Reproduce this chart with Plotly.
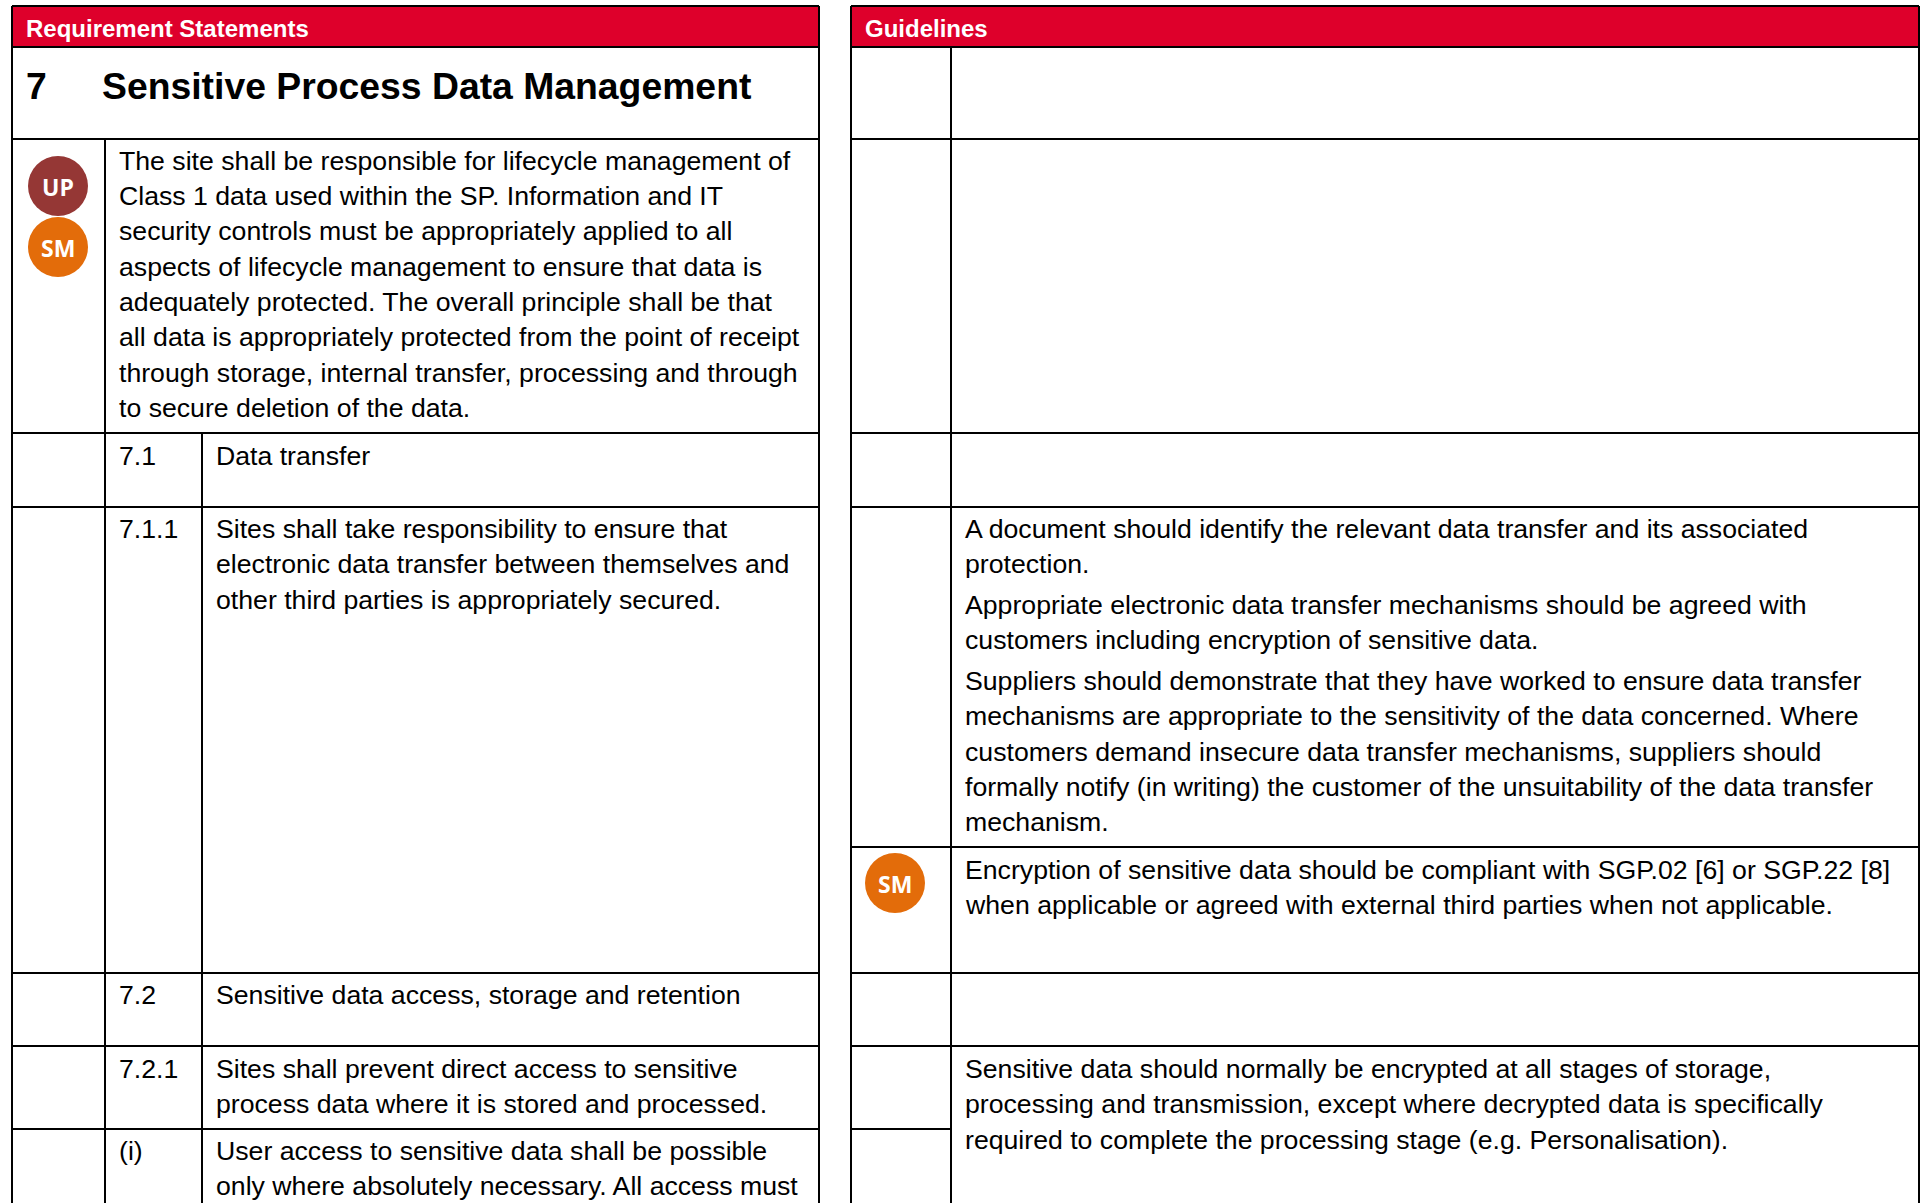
import plotly.graph_objects as go

# Table content
headers = ["Requirement Statements", "Guidelines"]
section_no = "7"
section_title = "Sensitive Process Data Management"
intro = ["The site shall be responsible for lifecycle management of",
         "Class 1 data used within the SP. Information and IT",
         "security controls must be appropriately applied to all",
         "aspects of lifecycle management to ensure that data is",
         "adequately protected. The overall principle shall be that",
         "all data is appropriately protected from the point of receipt",
         "through storage, internal transfer, processing and through",
         "to secure deletion of the data."]
numbers = ["7.1", "7.1.1", "7.2", "7.2.1", "(i)"]
number_rows = [456, 528.5, 995, 1068.5, 1150.5]
req_711 = ["Sites shall take responsibility to ensure that",
           "electronic data transfer between themselves and",
           "other third parties is appropriately secured."]
req_721 = ["Sites shall prevent direct access to sensitive",
           "process data where it is stored and processed."]
req_i = ["User access to sensitive data shall be possible",
         "only where absolutely necessary. All access must"]
guide_a = ["A document should identify the relevant data transfer and its associated", "protection."]
guide_b = ["Appropriate electronic data transfer mechanisms should be agreed with",
           "customers including encryption of sensitive data."]
guide_c = ["Suppliers should demonstrate that they have worked to ensure data transfer",
           "mechanisms are appropriate to the sensitivity of the data concerned. Where",
           "customers demand insecure data transfer mechanisms, suppliers should",
           "formally notify (in writing) the customer of the unsuitability of the data transfer",
           "mechanism."]
guide_d = ["Encryption of sensitive data should be compliant with SGP.02 [6] or SGP.22 [8]",
           "when applicable or agreed with external third parties when not applicable."]
guide_e = ["Sensitive data should normally be encrypted at all stages of storage,",
           "processing and transmission, except where decrypted data is specifically",
           "required to complete the processing stage (e.g. Personalisation)."]

badge_labels = ["UP", "SM", "SM"]
badge_x = [58, 58, 895]
badge_y = [186, 247, 883]
badge_colors = ["#953735", "#E36C0A", "#E36C0A"]

FONT = "Liberation Sans"
BLACK = "#000000"
RED = "#DE002B"
SIZE = 26.67
LEAD = 35.3

L0, L1, L2, L3 = 12, 105, 202, 819
R0, R1, R2 = 851, 951, 1919
Y_TOP, Y_HEAD, Y_SEC, Y_A, Y_B, Y_C, Y_D, Y_E, Y_END = 6, 47, 139, 433, 507, 973, 1046, 1129, 1203

fig = go.Figure()
shapes = []
def line(x0, y0, x1, y1, w=2):
    shapes.append(dict(type="line", x0=x0, y0=y0, x1=x1, y1=y1, line=dict(color=BLACK, width=w), layer="above"))

for a, b in ((L0, L3), (R0, R2)):
    shapes.append(dict(type="rect", x0=a, x1=b, y0=Y_TOP, y1=Y_HEAD, fillcolor=RED, line=dict(width=0), layer="below"))
    for y in (Y_TOP, Y_HEAD, Y_SEC, Y_A, Y_B, Y_C, Y_D):
        line(a, y, b, y)
    line(a, Y_TOP, a, Y_END)
    line(b, Y_TOP, b, Y_END)
line(L0, Y_E, L3, Y_E)
line(R0, Y_E, R1, Y_E)
line(R0, 847, R2, 847)
line(L1, Y_SEC, L1, Y_END)
line(L2, Y_A, L2, Y_END)
line(R1, Y_HEAD, R1, Y_END)

ann = []
def text(x, y, s, size=SIZE, bold=False, color=BLACK, anchor="left", font=FONT):
    ann.append(dict(x=x, y=y, text=f"<b>{s}</b>" if bold else s, xref="x", yref="y", showarrow=False,
                    xanchor=anchor, yanchor="middle", align=anchor, borderpad=0, borderwidth=0,
                    font=dict(family=font, size=size, color=color)))
def block(x, y, lines):
    for i, s in enumerate(lines):
        text(x, y + i * LEAD, s)

text(26, 28.5, headers[0], size=24, bold=True, color="#FFFFFF")
text(865, 28.5, headers[1], size=24, bold=True, color="#FFFFFF")
text(26, 86, section_no, size=37.33, bold=True)
text(102, 86, section_title, size=37.33, bold=True)
block(119, 160.8, intro)
for n, y in zip(numbers, number_rows):
    text(119, y, n)
text(216, 456, "Data transfer")
block(216, 529, req_711)
text(216, 995, "Sensitive data access, storage and retention")
block(216, 1069, req_721)
block(216, 1151, req_i)
block(965, 529, guide_a)
block(965, 605, guide_b)
block(965, 681, guide_c)
block(965, 870, guide_d)
block(965, 1069, guide_e)

fig.add_trace(go.Scatter(x=badge_x, y=badge_y, mode="markers",
                         marker=dict(size=60, color=badge_colors, line=dict(width=0)),
                         hoverinfo="skip", showlegend=False))
for lab, x, y in zip(badge_labels, badge_x, badge_y):
    text(x, y + 0.5, f"<b>{lab}</b>", size=23, color="#FFFFFF", anchor="center", font="Open Sans")

fig.update_layout(width=1923, height=1203, margin=dict(l=0, r=0, t=0, b=0), paper_bgcolor="white", plot_bgcolor="white",
                  shapes=shapes, annotations=ann, showlegend=False,
                  xaxis=dict(range=[0, 1923], visible=False, fixedrange=True),
                  yaxis=dict(range=[1203, 0], visible=False, fixedrange=True))
fig.write_html("out.html", config=dict(displayModeBar=False),
               post_script="document.body.style.margin='0';document.body.style.overflow='hidden';")
